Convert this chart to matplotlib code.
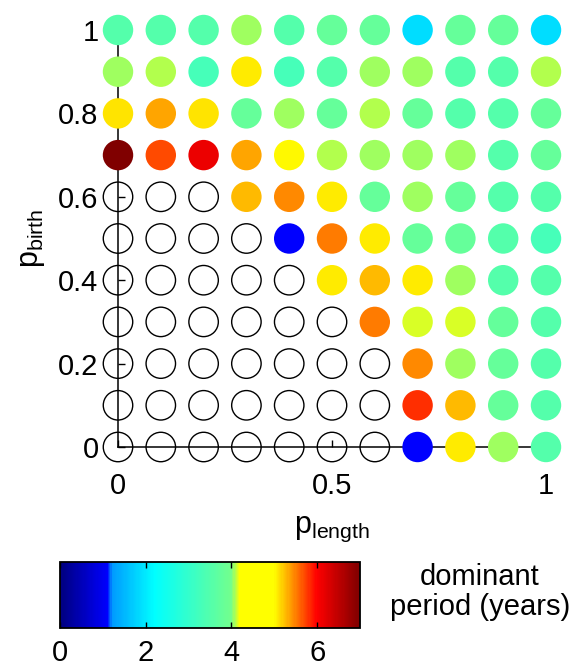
import numpy as np
import matplotlib
matplotlib.use("Agg")
import matplotlib.pyplot as plt
from matplotlib.colors import LinearSegmentedColormap, Normalize
from matplotlib.cm import ScalarMappable

plt.rcParams['font.family'] = ['Liberation Sans', 'DejaVu Sans']
plt.rcParams['mathtext.default'] = 'regular'

# grid axes
p_length = [0.0, 0.1, 0.2, 0.3, 0.4, 0.5, 0.6, 0.7, 0.8, 0.9, 1.0]
p_birth = [0.0, 0.1, 0.2, 0.3, 0.4, 0.5, 0.6, 0.7, 0.8, 0.9, 1.0]

nan = np.nan
# dominant period (years), one row per p_birth (bottom to top); nan = no dominant period
period = [
    [nan, nan, nan, nan, nan, nan, nan, 1.10, 5.06, 4.05, 3.52],
    [nan, nan, nan, nan, nan, nan, nan, 5.80, 5.25, 3.80, 3.52],
    [nan, nan, nan, nan, nan, nan, nan, 5.45, 4.05, 3.80, 3.52],
    [nan, nan, nan, nan, nan, nan, 5.52, 4.15, 4.15, 3.75, 3.52],
    [nan, nan, nan, nan, nan, 5.06, 5.25, 5.06, 4.05, 3.52, 3.52],
    [nan, nan, nan, nan, 1.10, 5.52, 5.06, 3.80, 3.80, 3.52, 3.30],
    [nan, nan, nan, 5.25, 5.45, 5.06, 3.80, 4.05, 3.80, 3.52, 3.52],
    [7.00, 5.70, 6.14, 5.35, 5.02, 4.10, 4.05, 4.05, 4.05, 3.52, 3.80],
    [5.10, 5.35, 5.10, 3.80, 4.05, 3.80, 4.10, 3.80, 3.52, 3.52, 3.80],
    [4.05, 4.10, 3.30, 5.06, 3.30, 3.52, 4.05, 4.05, 3.52, 3.52, 4.10],
    [3.52, 3.52, 3.52, 4.05, 3.52, 3.80, 3.80, 1.87, 3.80, 3.80, 1.87],
]

cbar_ticks = [0, 2, 4, 6]
vmax = 7.0

# colour map (years -> colour)
anchors = [
    (0.0, (0.0, 0.0, 0.5)),
    (1.1, (0.0, 0.0, 1.0)),
    (1.2, (0.0, 0.6, 1.0)),
    (2.2, (0.0, 1.0, 1.0)),
    (4.0, (0.45, 1.0, 0.55)),
    (4.2, (1.0, 1.0, 0.0)),
    (5.0, (1.0, 1.0, 0.0)),
    (6.0, (1.0, 0.0, 0.0)),
    (7.0, (0.5, 0.0, 0.0)),
]
cmap = LinearSegmentedColormap.from_list('period', [(v / vmax, c) for v, c in anchors])
norm = Normalize(0, vmax)

W, H = 576, 668
fig = plt.figure(figsize=(W / 100, H / 100), dpi=100)

lo, hi = -0.08, 1.08
ax_w = (hi - lo) * 428
ax_h = (hi - lo) * 417
left_px = 118 + lo * 428
bottom_px = 447 - lo * 417
ax = fig.add_axes([left_px / W, (H - bottom_px) / H, ax_w / W, ax_h / H])
ax.set_xlim(lo, hi)
ax.set_ylim(lo, hi)

X, Y = np.meshgrid(p_length, p_birth)
P = np.array(period)
empty = np.isnan(P)

ax.scatter(X[empty], Y[empty], s=450, facecolors='none', edgecolors='black',
           linewidths=1.0, zorder=3)
ax.scatter(X[~empty], Y[~empty], s=480, c=P[~empty], cmap=cmap, norm=norm,
           edgecolors='none', zorder=4)

for side in ['top', 'right']:
    ax.spines[side].set_visible(False)
for side in ['left', 'bottom']:
    ax.spines[side].set_position(('data', 0))
    ax.spines[side].set_bounds(0, 1)
    ax.spines[side].set_linewidth(1.1)
    ax.spines[side].set_zorder(2)

ax.set_xticks([0, 0.5, 1])
ax.set_xticklabels(['0', '0.5', '1'])
ax.set_yticks([0, 0.2, 0.4, 0.6, 0.8, 1])
ax.set_yticklabels(['0', '0.2', '0.4', '0.6', '0.8', '1'])
ax.tick_params(axis='both', direction='in', length=5, width=1.0, labelsize=21)
ax.tick_params(axis='x', pad=18)
ax.tick_params(axis='y', pad=14)

ax.set_xlabel('$p_{length}$', fontsize=22, labelpad=10)
ax.set_ylabel('$p_{birth}$', fontsize=22, labelpad=8)

# colour bar
cax = fig.add_axes([60 / W, (H - 628) / H, 300 / W, 66 / H])
cb = fig.colorbar(ScalarMappable(norm=norm, cmap=cmap), cax=cax,
                  orientation='horizontal', ticks=cbar_ticks)
cb.outline.set_linewidth(1.3)
cax.tick_params(direction='in', length=4, width=1.0, labelsize=21, pad=8,
                top=True, bottom=True)
fig.text(480 / W, (H - 592) / H, 'dominant\nperiod (years)', fontsize=21,
         ha='center', va='center', linespacing=1.1)

fig.savefig('out.png', dpi=100)
